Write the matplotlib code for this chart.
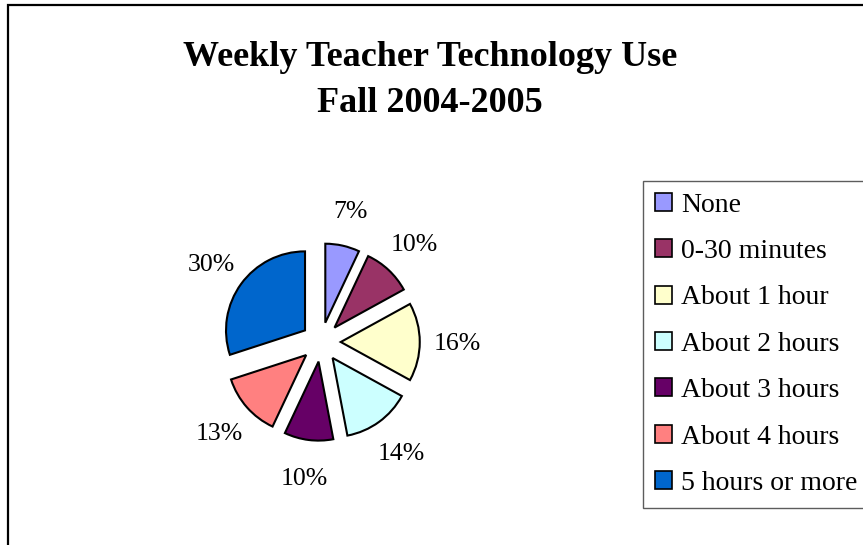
import matplotlib
matplotlib.use("Agg")
import matplotlib.pyplot as plt
from matplotlib.patches import Patch, Rectangle

categories = ["None", "0-30 minutes", "About 1 hour", "About 2 hours",
              "About 3 hours", "About 4 hours", "5 hours or more"]
percents = [7, 10, 16, 14, 10, 13, 30]
colors = ["#9999FF", "#993366", "#FFFFCC", "#CCFFFF",
          "#660066", "#FF8080", "#0066CC"]

plt.rcParams['font.family'] = ['Liberation Serif', 'DejaVu Serif']

W, H = 863, 545
fig = plt.figure(figsize=(W / 100, H / 100), dpi=100)

# outer chart border (left and top visible)
fig.patches.append(Rectangle((8 / W, -0.1), 1.2, 1.1 - 5 / H, transform=fig.transFigure,
                             fill=False, edgecolor="black", linewidth=1.6))

# pie axes: centre at (321, 342) px, radius 79 px
r_px = 79
cx, cy = 321, 342
half = 200
ax = fig.add_axes([(cx - half) / W, (H - cy - half) / H, 2 * half / W, 2 * half / H])

labels = [f"{p}%" for p in percents]
ax.pie(percents, colors=colors, labels=labels, startangle=90, counterclock=False,
       explode=[0.25] * len(percents), labeldistance=1.47,
       wedgeprops=dict(edgecolor="black", linewidth=1.5),
       textprops=dict(fontsize=18.5, ha="center", va="center_baseline"))
lim = half / r_px
ax.set_xlim(-lim, lim)
ax.set_ylim(-lim, lim)
ax.set_aspect("equal")
ax.axis("off")

# title
fig.text(430 / W, 1 - 65.7 / H, "Weekly Teacher Technology Use", ha="center",
         va="baseline", fontsize=26, fontweight="bold")
fig.text(430 / W, 1 - 111.7 / H, "Fall 2004-2005", ha="center",
         va="baseline", fontsize=26, fontweight="bold")

# legend
handles = [Patch(facecolor=c, edgecolor="black", linewidth=1.2) for c in colors]
leg = fig.legend(handles, categories, loc="upper left",
                 bbox_to_anchor=(643 / W, 1 - 181 / H), borderaxespad=0,
                 fontsize=20, frameon=True, fancybox=False, shadow=False,
                 handlelength=0.62, handleheight=0.62, handletextpad=0.32,
                 labelspacing=0.77, borderpad=0.42)
leg.get_frame().set_edgecolor("#333333")
leg.get_frame().set_linewidth(1.0)

fig.savefig("out.png", dpi=100)
